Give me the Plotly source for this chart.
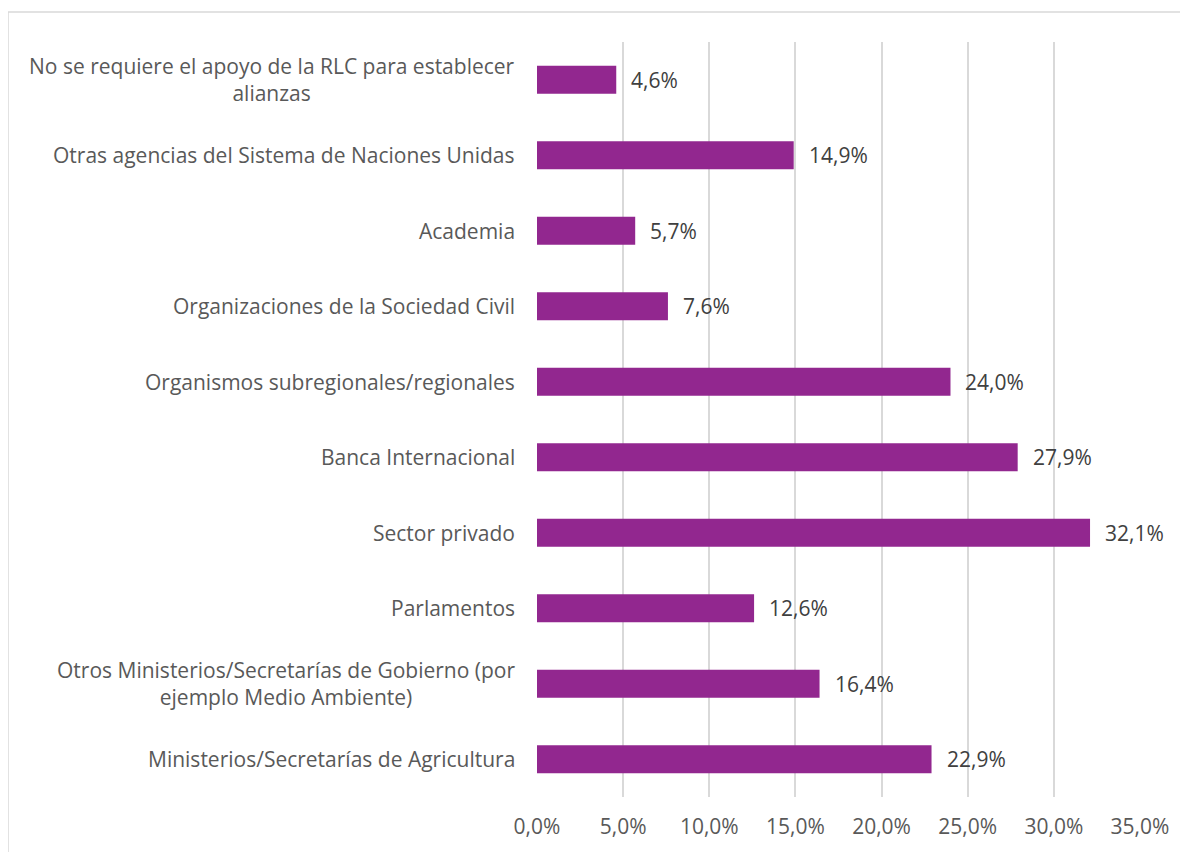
import plotly.graph_objects as go

categories = [
    "No se requiere el apoyo de la RLC para establecer<br>alianzas",
    "Otras agencias del Sistema de Naciones Unidas",
    "Academia",
    "Organizaciones de la Sociedad Civil",
    "Organismos subregionales/regionales",
    "Banca Internacional",
    "Sector privado",
    "Parlamentos",
    "Otros Ministerios/Secretarías de Gobierno (por<br>ejemplo Medio Ambiente)",
    "Ministerios/Secretarías de Agricultura",
]
values = [0.046, 0.149, 0.057, 0.076, 0.240, 0.279, 0.321, 0.126, 0.164, 0.229]
tick_values = [0, 0.05, 0.10, 0.15, 0.20, 0.25, 0.30, 0.35]

# page body has an 8px margin
W, H = 1180, 844
ML, MR, MT, MB = 529, 48, 34, 55
FONT = "Open Sans"
TXT = "#595959"
FS = 21

fig = go.Figure()
fig.add_trace(go.Bar(
    x=values, y=categories, orientation="h",
    marker=dict(color="#92278F", line=dict(width=0)),
    width=0.37, hoverinfo="skip",
))

annotations = []
for c, v in zip(categories, values):
    annotations.append(dict(
        x=v, y=c, xref="x", yref="y", xanchor="left", yanchor="middle",
        xshift=13, showarrow=False,
        text=f"{v*100:.1f}%".replace(".", ","),
        font=dict(family=FONT, size=FS, color="#404040"),
    ))
    annotations.append(dict(
        x=0, y=c, xref="paper", yref="y", xanchor="right", yanchor="middle",
        xshift=-20, showarrow=False, align="center", text=c,
        font=dict(family=FONT, size=FS, color=TXT),
    ))

pw = W - ML - MR
ph = H - MT - MB
bx0, by0, bx1, by1 = 0, 4, W + 10, H + 10
shapes = [dict(
    type="rect", xref="paper", yref="paper",
    x0=(bx0 - ML) / pw, x1=(bx1 - ML) / pw,
    y0=1 - (by1 - MT) / ph, y1=1 - (by0 - MT) / ph,
    line=dict(color="#d9d9d9", width=1.5), fillcolor="rgba(0,0,0,0)", layer="below",
)]

fig.update_layout(
    width=W, height=H,
    margin=dict(l=ML, r=MR, t=MT, b=MB, pad=0),
    paper_bgcolor="white", plot_bgcolor="white",
    separators=",.",
    showlegend=False,
    annotations=annotations,
    shapes=shapes,
    xaxis=dict(
        range=[0, 0.35], tickvals=tick_values, tickformat=".1%",
        showgrid=True, gridcolor="#d9d9d9", gridwidth=1.5,
        zeroline=False, showline=False, ticks="",
        tickfont=dict(family=FONT, size=FS, color=TXT),
        ticklabelstandoff=15,
    ),
    yaxis=dict(
        autorange="reversed", showticklabels=False, showgrid=False,
        zeroline=False, showline=False, ticks="",
    ),
    bargap=0.63,
)

fig.write_html("out.html")
